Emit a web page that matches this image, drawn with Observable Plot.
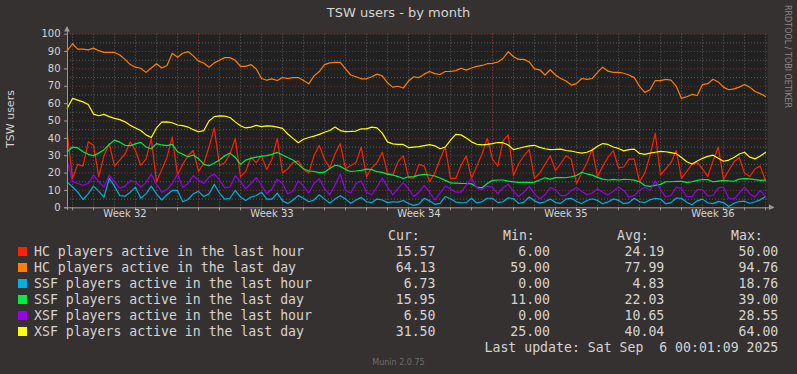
<!DOCTYPE html>
<html><head><meta charset="utf-8">
<script src="https://cdn.jsdelivr.net/npm/d3@7"></script>
<script src="https://cdn.jsdelivr.net/npm/@observablehq/plot@0.6"></script>
<style>
html,body{margin:0;padding:0;background:#353130;}
#wrap{position:relative;width:797px;height:374px;overflow:hidden;background:#353130;font-family:"DejaVu Sans",sans-serif;color:#d4d4d4;}
.abs{position:absolute;white-space:pre;}
.mono{font-family:"DejaVu Sans Mono",monospace;font-size:13.2px;line-height:16px;}
#chart{position:absolute;left:0;top:0;}
</style></head>
<body><div id="wrap"><div id="chart"></div></div>
<script>
// ---------- data (6-hourly samples, starting Aug 3 2025 18:00) ----------
const seriesNames = [
  "HC players active in the last hour",
  "HC players active in the last day",
  "SSF players active in the last hour",
  "SSF players active in the last day",
  "XSF players active in the last hour",
  "XSF players active in the last day"
];
const seriesColors = ["#ff2200", "#ff7f00", "#00b0e0", "#00ee44", "#9900ee", "#ffff00"];

const hcHour = [43,17,25,24,38,36,18,30,37,24,27.5,31,38,33,24.4,28,40,15,22,29,40.8,19,25,30,33,21,25.5,35,46,24.4,26,31,40,18,21,29,26,30,22,28,40,20,22.5,26,27,22,20,30,36,28,23,31,37,22.5,24.4,26,35,18,23,26,32,20,18.7,26.5,30,17.5,17,
  25,24,15,20,28,35,17,17,24.4,30,17,24,31,40,28,24,38.5,42,18.5,25.5,30,33.5,17,20,25,30,21.5,25.5,30,28,14,20,26,34,18,24,29,33,23,23.5,28,28,15,20,30,43,19,22.5,26,33,17,21,25,26,22.5,18,27,35,16.5,21.5,26.5,29,20,18,22.5,24,15.6];
const hcDay = [90.5,94.5,91.4,91.4,91,92,90.5,89.5,89.5,89.5,88,85.5,82.5,81,80.4,78,80.5,83,80.5,82,89,86.7,89,90,87.5,84.5,83.4,81,83.5,85,
  86.5,86.5,85,81.5,81.5,82.5,80,74.5,73.5,74.3,73.3,75,74.5,75,75,73.3,71.4,76,78.5,82.5,83.5,83.8,83.8,80,76.5,75.5,74.3,74.3,75.5,77,
  76,72,69.5,70,69,73,75.5,75,77,78.5,77.3,76.8,78.5,78.5,79,80.4,79.3,80.5,81.5,82,83,83.2,84,86,90,87,85.5,85.5,84,80,
  79.5,76.5,79.5,76.5,74.5,73,70.7,71.5,74.5,74,74.5,78,81,78.7,78,78,77.5,76.5,75,70,66.5,68,73.3,73.3,74,73.5,70,63,64,65.3,
  64.7,71,71.5,74,72.5,69.5,68,68.5,69.5,71,69.5,67,65.8,64.1];
const ssfHour = [14.8,12,9,4.8,8,12.5,9.5,6.2,17,12.5,7,6.7,9,11.9,5.5,8,12.5,8,4.5,7.5,10,10,3.5,4.8,8,9.5,6.5,8,13.5,8.5,
  5,5.5,10,6.2,4.2,6.2,7.1,9,5,5,8.5,4,2.5,4.5,7,5.5,3.5,4.5,7.5,5,2.8,5,7,5,2.6,4.5,6,3.5,3,5,
  4.5,3,3.5,3.3,4.2,2.5,1.4,2.3,5.5,4,2,2.5,6.5,5.2,3.3,2.9,3,5.5,2.8,3.5,5.5,5.5,3,3.5,5.8,5.2,2.5,3.3,6.2,4,
  2.7,3.5,5,3,2.6,5,5.5,3.6,2.5,4.2,5.2,4.2,2.3,3.4,5.1,4.3,2.4,3,5.5,3.5,3,4.6,5.5,5,2.3,3,5.6,5.5,3.2,1.8,
  4,5,2.9,2.4,3.7,3,0.8,2.6,3.6,3.8,2.6,3.5,4.6,6.5];
const ssfDay = [32.3,35,34.5,32.3,30.8,30,31.5,33.5,36.5,39,37.8,36,35.8,36.8,37.7,35,34,37,36.2,35.8,36.5,32.3,30.8,29.4,30.4,28.3,25,24.2,25.8,27.5,
  30,31.5,29,25,27.5,28.5,29.2,29.7,30.1,30.8,31.9,30.4,29,27.5,25,22.5,21.2,20.9,20.3,20.5,22.7,24.5,24,22,20.9,21.2,21.6,22.3,22,20.8,
  20.4,19.4,18.9,18,16.9,17.9,18,18.8,19.2,18.9,18.3,17.2,15.8,14.4,14.2,14,14,13.8,12,11.5,14,15.8,16,16,15.4,14.9,14.6,14.6,14.6,14.8,
  16,17.3,16.5,17.4,17.4,17.3,17.9,18.6,20.5,19.5,18.8,17.5,16.5,16,16.4,16,16.4,16.3,15.9,15,12.8,12.3,12.9,13.5,15,15,15.3,15.2,14.6,15,
  15.8,16.3,16.2,15,15.4,15.8,15.5,15.3,16.5,16.8,16.7,16.2,15.8,15.95];
const xsfHour = [27,15,14,13,14,19,15,12,18.7,15,11.3,12.5,15.5,15,11.9,14.5,19.4,13.5,9,10.5,14,19.5,11.9,14,18.5,16,14,17.7,19.6,16,
  11.5,12,18.5,15,11,14,17.5,13,8.2,11,16.5,14,8,9.5,15.5,12.5,8.5,14,16.7,11,7.5,13,19.5,10,8.5,14,15.5,9,7.5,12,
  17.2,11.9,7.5,11,14.5,11,6.5,9,12.9,9,4.5,8.5,12.5,11,9,9,13,17,11.5,10.5,12.5,11.9,8,11.5,13.5,9.5,6.5,9,12.5,8,
  5.2,7.5,11.7,10.5,7,7,10,11.5,9.5,7.5,8.5,11,9,7.3,9.5,11.9,10,6.2,7.1,10,11.9,10,15.5,10.5,6.2,7.1,11.9,11,6.5,6.5,
  10.5,10.5,6.8,7.1,11.5,12,5.5,5,8.5,11.9,8,6.3,10,6.5];
const xsfDay = [57.3,63,62,61,59.5,54,53,53.8,52.5,51.5,50.8,49.5,47.5,46,44.5,42,40.5,46,49.3,49.5,49,47.7,47.3,46.5,45,43.8,44.5,50,52.5,53,
  52.8,52,49.5,47.3,46,46.5,47.5,46.8,47.2,47,46.5,45.8,42.5,40,37.5,39.5,40.5,41.3,42.3,43.5,44.5,46.5,44.5,43.9,44,44.2,45.5,45.5,46.5,46,
  43,38,36.8,36.5,36.5,34.7,35,35.2,35.8,36.4,35.7,34,35,39,42.3,42,40.2,38,36.6,36.2,36.5,37,37.6,37.5,36.2,33.5,34.3,35,35.7,36,
  34.8,34,33.5,33.6,33.8,33,32.7,32,31.5,32,33.3,35.5,37,36.5,35,34.2,32.8,33.5,33.8,31.3,30.8,31.5,32,32.5,32.3,31.8,31.2,29,26.5,25.2,
  27,28.5,29.6,30.3,28.6,26.8,27.5,29,31,32,29.2,28.2,29.8,31.9];
const seriesValues = [hcHour, hcDay, ssfHour, ssfDay, xsfHour, xsfDay];

const curVals = ["15.57", "64.13", "6.73", "15.95", "6.50", "31.50"];
const minVals = ["6.00", "59.00", "0.00", "11.00", "0.00", "25.00"];
const avgVals = ["24.19", "77.99", "4.83", "22.03", "10.65", "40.04"];
const maxVals = ["50.00", "94.76", "18.76", "39.00", "28.55", "64.00"];

const weekLabels = ["Week 32", "Week 33", "Week 34", "Week 35", "Week 36"];
const weekStarts = ["2025-08-03", "2025-08-10", "2025-08-17", "2025-08-24", "2025-08-31"];
const yTicks = [0, 10, 20, 30, 40, 50, 60, 70, 80, 90, 100];
const yMinor = [5, 15, 25, 35, 45, 55, 65, 75, 85, 95];

const sampleStart = Date.UTC(2025, 7, 3, 18, 0);
const sampleStepHours = 6;
const xDomain = [new Date(Date.UTC(2025, 7, 3, 18, 17)), new Date(Date.UTC(2025, 8, 6, 2, 17))];

// ---------- build ----------
const H = 3600e3;
const times = hcHour.map((_, i) => new Date(sampleStart + i * sampleStepHours * H));
const dayTicks = d3.utcDay.range(xDomain[0], xDomain[1]);
const weekStartDates = weekStarts.map(s => new Date(s + "T00:00:00Z"));
const weekBounds = weekStartDates.filter(d => d > xDomain[0] && d < xDomain[1]);
const weekRows = weekLabels.map((label, i) => ({t: new Date(+weekStartDates[i] + 3.5 * 24 * H), label}));

const lineMarks = seriesValues.map((vals, s) =>
  Plot.line(vals.map((v, i) => ({t: times[i], v})), {x: "t", y: "v", stroke: seriesColors[s], strokeWidth: 1.2})
);

const axisColor = "#9a9a9a";
const textColor = "#d4d4d4";
const pxPerDay = 21;
const axisLeftExt = new Date(+xDomain[0] - (3 / pxPerDay) * 24 * H);
const axisRightExt = new Date(+xDomain[1] + (6 / pxPerDay) * 24 * H);

const plot = Plot.plot({
  width: 797,
  height: 230,
  marginLeft: 67,
  marginRight: 30,
  marginTop: 33.7,
  marginBottom: 22.7,
  style: {background: "transparent", color: textColor, fontFamily: "DejaVu Sans", fontSize: "10px", overflow: "visible"},
  x: {type: "utc", domain: xDomain},
  y: {domain: [0, 100]},
  marks: [
    Plot.frame({fill: "#212121", stroke: "none"}),
    Plot.gridY(yMinor, {stroke: "#5c5c5c", strokeOpacity: 1, strokeDasharray: "1,2"}),
    Plot.gridX(dayTicks, {stroke: "#5c5c5c", strokeOpacity: 1, strokeDasharray: "1,2"}),
    Plot.gridY(yTicks, {stroke: "#7a3030", strokeOpacity: 1, strokeDasharray: "1,2"}),
    Plot.gridX(weekBounds, {stroke: "#8a2a2a", strokeOpacity: 1, strokeDasharray: "1,2"}),
    ...lineMarks,
    Plot.axisY(yTicks, {tickSize: 3, tickPadding: 4, label: null, stroke: axisColor, fill: textColor, fontSize: 10}),
    Plot.axisX(dayTicks, {tickSize: 3, tickFormat: () => "", label: null, stroke: axisColor}),
    Plot.text(weekRows, {x: "t", text: "label", frameAnchor: "bottom", dy: 9.5, fill: textColor, fontSize: 10}),
    Plot.ruleX([xDomain[0]], {y1: -1.5, y2: 103.5, stroke: axisColor}),
    Plot.ruleY([0], {x1: axisLeftExt, x2: axisRightExt, stroke: axisColor})
  ]
});

// arrowheads at axis ends, placed with the plot's scales
const X = plot.scale("x"), Y = plot.scale("y");
const svg = d3.select(plot);
const ax = X.apply(xDomain[0]), ay = Y.apply(103.5);
svg.append("polygon").attr("points", `${ax},${ay - 1.5} ${ax - 2.8},${ay + 4} ${ax + 2.8},${ay + 4}`).attr("fill", axisColor);
const rx = X.apply(axisRightExt), ry = Y.apply(0);
svg.append("polygon").attr("points", `${rx + 1.5},${ry} ${rx - 4},${ry - 2.8} ${rx - 4},${ry + 2.8}`).attr("fill", axisColor);

document.getElementById("chart").appendChild(plot);

// ---------- texts and legend ----------
const wrap = document.getElementById("wrap");
function addDiv(html, css, cls) {
  const d = document.createElement("div");
  d.className = "abs" + (cls ? " " + cls : "");
  d.textContent = html;
  Object.assign(d.style, css);
  wrap.appendChild(d);
  return d;
}
addDiv("TSW users - by month", {left: "0px", top: "5px", width: "797px", textAlign: "center", fontSize: "13px", lineHeight: "16px", color: textColor});
addDiv("TSW users", {left: "11px", top: "119px", fontSize: "11px", lineHeight: "12px", color: textColor, transform: "translate(-50%,-50%) rotate(-90deg)"});
addDiv("RRDTOOL / TOBI OETIKER", {left: "782px", top: "5px", fontSize: "8px", lineHeight: "10px", color: "#8a8a8a", writingMode: "vertical-rl"});
addDiv("Munin 2.0.75", {left: "0px", top: "358px", width: "797px", textAlign: "center", fontSize: "8px", lineHeight: "10px", color: "#6e6e6e"});

const headerTop = 227.7, rowTop0 = 243.7, rowStep = 16;
const colRight = [435.5, 550, 664.3, 778.3];
const headLeft = [388, 503, 617, 731];
["Cur:", "Min:", "Avg:", "Max:"].forEach((h, j) => addDiv(h, {left: headLeft[j] + "px", top: headerTop + "px", color: textColor}, "mono"));
seriesNames.forEach((name, i) => {
  const top = rowTop0 + i * rowStep;
  const sw = document.createElement("div");
  Object.assign(sw.style, {position: "absolute", left: "18px", top: (top + 3.5) + "px", width: "9px", height: "9px", background: seriesColors[i]});
  wrap.appendChild(sw);
  addDiv(name, {left: "34px", top: top + "px", color: textColor}, "mono");
  [curVals, minVals, avgVals, maxVals].forEach((arr, j) => {
    addDiv(arr[i], {right: (797 - colRight[j]) + "px", top: top + "px", color: textColor, textAlign: "right"}, "mono");
  });
});
addDiv("Last update: Sat Sep  6 00:01:09 2025", {right: (797 - 778.3) + "px", top: (rowTop0 + 6 * rowStep) + "px", color: textColor}, "mono");
</script>
</body></html>
